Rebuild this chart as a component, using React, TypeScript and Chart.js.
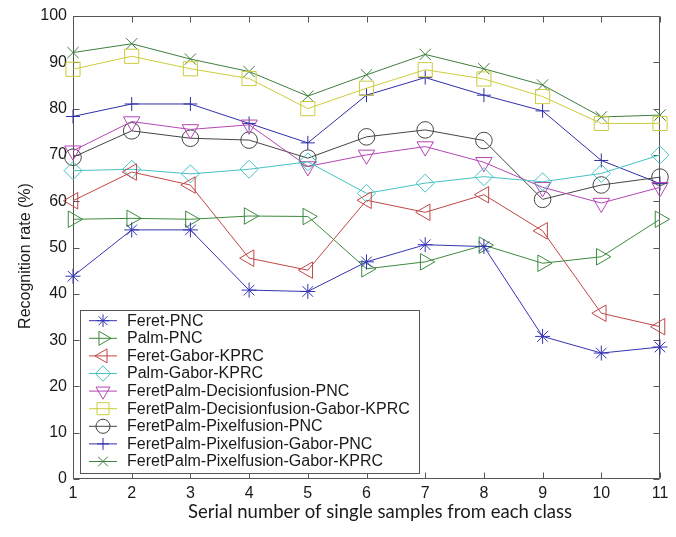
import React, { useEffect, useRef } from 'react';
import { Chart, registerables } from 'chart.js';
import { drawPoint } from 'chart.js/helpers';

Chart.register(...registerables);

// ---------- data ----------
const samples = ['1', '2', '3', '4', '5', '6', '7', '8', '9', '10', '11'];

const seriesNames = [
  'Feret-PNC',
  'Palm-PNC',
  'Feret-Gabor-KPRC',
  'Palm-Gabor-KPRC',
  'FeretPalm-Decisionfusion-PNC',
  'FeretPalm-Decisionfusion-Gabor-KPRC',
  'FeretPalm-Pixelfusion-PNC',
  'FeretPalm-Pixelfusion-Gabor-PNC',
  'FeretPalm-Pixelfusion-Gabor-KPRC',
];

const feretPNC = [43.8, 53.8, 53.8, 40.8, 40.5, 46.9, 50.6, 50.2, 30.8, 27.2, 28.5];
const palmPNC = [56.1, 56.3, 56.1, 56.8, 56.7, 45.4, 46.9, 50.5, 46.6, 48.0, 56.1];
const feretGaborKPRC = [60.1, 66.3, 63.5, 47.7, 45.1, 60.2, 57.6, 61.4, 53.6, 35.8, 32.9];
const palmGaborKPRC = [66.6, 66.9, 65.9, 66.9, 68.5, 61.7, 63.9, 65.3, 64.2, 66.0, 70.0];
const decisionPNC = [70.9, 77.2, 75.5, 76.5, 67.5, 70.0, 71.8, 68.4, 63.0, 59.6, 63.0];
const decisionGaborKPRC = [88.5, 91.3, 88.6, 86.5, 80.0, 84.4, 88.4, 86.4, 82.6, 76.8, 76.8];
const pixelPNC = [69.5, 75.2, 73.6, 73.2, 69.3, 73.9, 75.4, 73.1, 60.4, 63.5, 65.2];
const pixelGaborPNC = [78.3, 81.0, 81.0, 76.8, 72.6, 82.9, 86.7, 82.9, 79.5, 68.8, 63.8];
const pixelGaborKPRC = [92.1, 94.0, 90.7, 88.0, 82.7, 87.3, 91.7, 88.6, 85.1, 78.2, 78.6];

const seriesValues = [
  feretPNC, palmPNC, feretGaborKPRC, palmGaborKPRC, decisionPNC,
  decisionGaborKPRC, pixelPNC, pixelGaborPNC, pixelGaborKPRC,
];

const yMin = 0;
const yMax = 100;
const yStep = 10;

const xTitle = 'Serial number of single samples from each class';
const yTitle = 'Recognition rate (%)';

// ---------- styles ----------
const colors = ['#3434b4', '#3d8a3d', '#c24646', '#46c2c2', '#b446b4', '#cccc3c', '#454545', '#2e2ea8', '#3f7f3f'];
const pointStyles = ['star', 'triangle', 'triangle', 'rectRot', 'triangle', 'rect', 'circle', 'cross', 'crossRot'];
const rotations = [0, 90, 270, 0, 180, 0, 0, 0, 0];
const radii = [7.5, 9.5, 9.5, 9, 9.5, 10, 8.3, 7, 8];

const SANS = '"Liberation Sans", Arial, sans-serif';

const framePlugin = {
  id: 'frameTicks',
  beforeDatasetsDraw(chart: any) {
    const { ctx, chartArea: a, scales } = chart;
    ctx.save();
    ctx.strokeStyle = '#555';
    ctx.lineWidth = 1;
    const L = Math.round(a.left) + 0.5;
    const R = Math.round(a.right) - 0.5;
    const T = Math.round(a.top) + 0.5;
    const B = Math.round(a.bottom) - 0.5;
    ctx.beginPath();
    ctx.rect(L, T, R - L, B - T);
    ctx.stroke();
    const tl = 6;
    ctx.beginPath();
    scales.x.ticks.forEach((_t: any, i: number) => {
      const px = Math.round(scales.x.getPixelForTick(i)) + 0.5;
      ctx.moveTo(px, B); ctx.lineTo(px, B - tl);
      ctx.moveTo(px, T); ctx.lineTo(px, T + tl);
    });
    scales.y.ticks.forEach((t: any) => {
      const py = Math.round(scales.y.getPixelForValue(t.value)) + 0.5;
      ctx.moveTo(L, py); ctx.lineTo(L + tl, py);
      ctx.moveTo(R, py); ctx.lineTo(R - tl, py);
    });
    ctx.stroke();
    ctx.restore();
  },
  afterDraw(chart: any) {
    const { ctx, chartArea: a } = chart;
    ctx.save();
    // legend box
    const bx = 80.5, by = 310.5, bw = 339, bh = 163;
    ctx.fillStyle = '#fff';
    ctx.fillRect(bx, by, bw, bh);
    ctx.strokeStyle = '#555';
    ctx.lineWidth = 1;
    ctx.strokeRect(bx, by, bw, bh);
    chart.data.datasets.forEach((ds: any, i: number) => {
      const cy = 320.7 + i * 17.6;
      ctx.strokeStyle = ds.borderColor;
      ctx.lineWidth = 1;
      ctx.beginPath();
      ctx.moveTo(89, cy);
      ctx.lineTo(117, cy);
      ctx.stroke();
      ctx.fillStyle = 'rgba(0,0,0,0)';
      drawPoint(ctx, {
        pointStyle: ds.pointStyle,
        rotation: ds.pointRotation,
        radius: ds.pointRadius * 0.85,
        borderWidth: 1,
      } as any, 103, cy);
      ctx.fillStyle = '#1a1a1a';
      ctx.font = `16px ${SANS}`;
      ctx.textBaseline = 'middle';
      ctx.textAlign = 'left';
      ctx.fillText(ds.label, 127, cy + 0.5);
    });
    // y title
    ctx.fillStyle = '#1a1a1a';
    ctx.save();
    ctx.translate(25.5, 256);
    ctx.rotate(-Math.PI / 2);
    ctx.font = `16px ${SANS}`;
    ctx.textAlign = 'center';
    ctx.textBaseline = 'middle';
    ctx.fillText(yTitle, 0, 0);
    ctx.restore();
    // x title
    ctx.font = '17px Lato, "Open Sans", sans-serif';
    const w = ctx.measureText(xTitle).width;
    const size = 17 * 384 / w;
    ctx.font = `${size.toFixed(2)}px Lato, "Open Sans", sans-serif`;
    ctx.textAlign = 'center';
    ctx.textBaseline = 'middle';
    ctx.fillText(xTitle, 380, 512);
    ctx.restore();
  },
};

export default function App() {
  const ref = useRef<HTMLCanvasElement | null>(null);
  useEffect(() => {
    if (!ref.current) return;
    const datasets = seriesNames.map((name, i) => ({
      label: name,
      data: seriesValues[i],
      borderColor: colors[i],
      backgroundColor: 'rgba(0,0,0,0)',
      borderWidth: 1,
      pointStyle: pointStyles[i],
      pointRotation: rotations[i],
      pointRadius: radii[i],
      pointBorderColor: colors[i],
      pointBackgroundColor: 'rgba(0,0,0,0)',
      pointBorderWidth: 1,
      tension: 0,
      fill: false,
    }));
    const chart = new Chart(ref.current, {
      type: 'line',
      data: { labels: samples, datasets },
      options: {
        animation: false,
        responsive: true,
        maintainAspectRatio: false,
        layout: { padding: { top: 16, right: 16, left: 0, bottom: 0 } },
        plugins: { legend: { display: false }, tooltip: { enabled: false } },
        scales: {
          x: {
            type: 'category',
            offset: false,
            grid: { drawOnChartArea: false, drawTicks: false },
            border: { display: false },
            ticks: { color: '#1a1a1a', font: { family: SANS, size: 16 }, padding: 5, maxRotation: 0, autoSkip: false },
            afterFit: (s: any) => { s.height = 58; },
          },
          y: {
            min: yMin,
            max: yMax,
            grid: { drawOnChartArea: false, drawTicks: false },
            border: { display: false },
            ticks: { stepSize: yStep, color: '#1a1a1a', font: { family: SANS, size: 16 }, padding: 6 },
            afterFit: (s: any) => { s.width = 73; },
          },
        },
      } as any,
      plugins: [framePlugin],
    });
    return () => chart.destroy();
  }, []);
  return (
    <div style={{ position: 'absolute', left: 0, top: 0, width: 676, height: 537, background: '#fff' }}>
      <canvas ref={ref} />
    </div>
  );
}
